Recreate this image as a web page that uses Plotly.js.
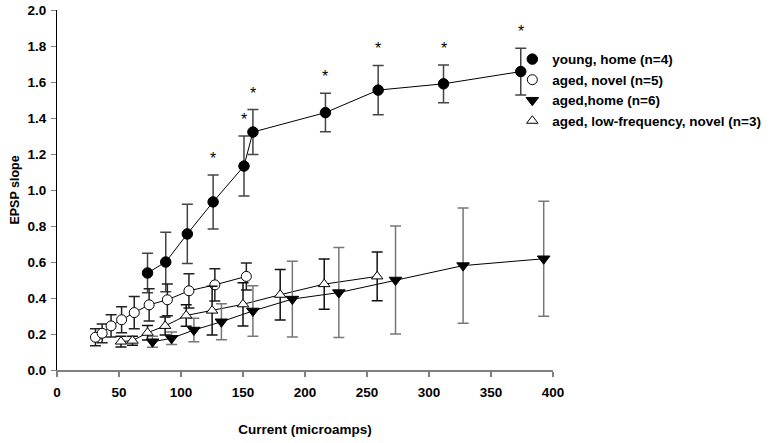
<!DOCTYPE html>
<html>
<head>
<meta charset="utf-8">
<script src="https://cdn.plot.ly/plotly-3.0.1.min.js"></script>
<style>html,body{margin:0;padding:0;background:#fff;}#chart{width:776px;height:443px;}</style>
</head>
<body>
<div id="chart"></div>
<script>
// Data
var seriesNames = ["young, home (n=4)", "aged, novel (n=5)", "aged,home (n=6)", "aged, low-frequency, novel (n=3)"];

var youngHomeX   = [73.0, 87.7, 105.1, 125.9, 150.8, 158.0, 216.5, 259.0, 311.7, 374.0];
var youngHomeY   = [0.539, 0.600, 0.756, 0.934, 1.133, 1.322, 1.430, 1.555, 1.590, 1.658];
var youngHomeErr = [0.110, 0.165, 0.165, 0.150, 0.167, 0.125, 0.107, 0.137, 0.105, 0.130];
var youngSignificant = [false, false, false, true, true, true, true, true, true, true];

var agedNovelX   = [31.0, 36.4, 43.6, 52.1, 62.3, 74.3, 89.0, 106.4, 127.3, 152.7];
var agedNovelY   = [0.182, 0.204, 0.245, 0.279, 0.319, 0.362, 0.390, 0.440, 0.473, 0.520];
var agedNovelErr = [0.047, 0.052, 0.062, 0.072, 0.090, 0.090, 0.088, 0.095, 0.090, 0.075];

var agedHomeX   = [77.0, 92.4, 110.4, 132.6, 158.0, 189.8, 227.3, 273.0, 327.5, 392.5];
var agedHomeY   = [0.157, 0.176, 0.222, 0.268, 0.328, 0.394, 0.430, 0.500, 0.580, 0.618];
var agedHomeErr = [0.030, 0.035, 0.065, 0.100, 0.140, 0.210, 0.250, 0.300, 0.320, 0.320];

var agedLowFreqX   = [51.6, 60.9, 73.0, 87.2, 104.2, 125.1, 150.0, 180.0, 215.5, 258.2];
var agedLowFreqY   = [0.158, 0.163, 0.207, 0.245, 0.303, 0.330, 0.365, 0.418, 0.477, 0.520];
var agedLowFreqErr = [0.030, 0.025, 0.040, 0.050, 0.060, 0.135, 0.120, 0.140, 0.140, 0.135];

var xTickVals = [0, 50, 100, 150, 200, 250, 300, 350, 400];
var yTickVals = [0.0, 0.2, 0.4, 0.6, 0.8, 1.0, 1.2, 1.4, 1.6, 1.8, 2.0];

var FONT = "'Liberation Sans', Arial, sans-serif";

function lineTrace(x, y) {
  return {x: x, y: y, type: 'scatter', mode: 'lines', showlegend: false, hoverinfo: 'skip',
          line: {color: '#000', width: 1}};
}
function markerTrace(name, x, y, err, marker, errColor) {
  return {x: x, y: y, type: 'scatter', mode: 'markers', name: name,
          marker: marker,
          error_y: {type: 'data', array: err, visible: true, color: errColor, thickness: 1.5, width: 5.5}};
}

var traces = [
  lineTrace(agedHomeX, agedHomeY),
  lineTrace(agedLowFreqX, agedLowFreqY),
  lineTrace(agedNovelX, agedNovelY),
  lineTrace(youngHomeX, youngHomeY),
  markerTrace(seriesNames[0], youngHomeX, youngHomeY, youngHomeErr,
    {symbol: 'circle', size: 10.5, color: '#000', line: {color: '#000', width: 1}}, '#444'),
  markerTrace(seriesNames[1], agedNovelX, agedNovelY, agedNovelErr,
    {symbol: 'circle', size: 10, color: '#fff', line: {color: '#000', width: 1}}, '#222'),
  markerTrace(seriesNames[2], agedHomeX, agedHomeY, agedHomeErr,
    {symbol: 'triangle-down', size: 11, color: '#000', line: {color: '#000', width: 1}}, '#777'),
  markerTrace(seriesNames[3], agedLowFreqX, agedLowFreqY, agedLowFreqErr,
    {symbol: 'triangle-up', size: 10, color: '#fff', line: {color: '#000', width: 1}}, '#111')
];

var annotations = [];
for (var i = 0; i < youngHomeX.length; i++) {
  if (youngSignificant[i]) {
    annotations.push({x: youngHomeX[i], y: youngHomeY[i] + youngHomeErr[i], xref: 'x', yref: 'y',
      text: '*', showarrow: false, yanchor: 'bottom', yshift: 6,
      font: {family: FONT, size: 16, color: '#000'}});
  }
}

var layout = {
  width: 776, height: 443,
  margin: {l: 57, r: 220, t: 10, b: 73},
  paper_bgcolor: '#fff', plot_bgcolor: '#fff',
  showlegend: true,
  legend: {x: 0.918, xanchor: 'left', y: 0.906, yanchor: 'top',
           font: {family: FONT, size: 13.5, color: '#000', weight: 'bold'},
           bgcolor: 'rgba(0,0,0,0)', tracegroupgap: 0},
  xaxis: {range: [0, 400], tickvals: xTickVals, ticktext: xTickVals.map(String),
          showgrid: false, zeroline: false, showline: true, linecolor: '#808080', linewidth: 1.5,
          ticks: 'outside', ticklen: 5, tickcolor: '#808080', tickwidth: 1.5,
          ticklabelstandoff: 4,
          tickfont: {family: FONT, size: 13.5, color: '#000', weight: 'bold'},
          title: {text: 'Current (microamps)', standoff: 26,
                  font: {family: FONT, size: 13.5, color: '#000', weight: 'bold'}}},
  yaxis: {range: [0, 2.0], tickvals: yTickVals, ticktext: yTickVals.map(function(v){return v.toFixed(1);}),
          showgrid: false, zeroline: false, showline: true, linecolor: '#000', linewidth: 1,
          ticks: 'outside', ticklen: 5, tickcolor: '#808080', tickwidth: 1,
          ticklabelstandoff: 2,
          tickfont: {family: FONT, size: 13.5, color: '#000', weight: 'bold'},
          title: {text: 'EPSP slope', standoff: 5,
                  font: {family: FONT, size: 12.5, color: '#000', weight: 'bold'}}},
  annotations: annotations
};

Plotly.newPlot('chart', traces, layout, {displayModeBar: false, staticPlot: true});
</script>
</body>
</html>
